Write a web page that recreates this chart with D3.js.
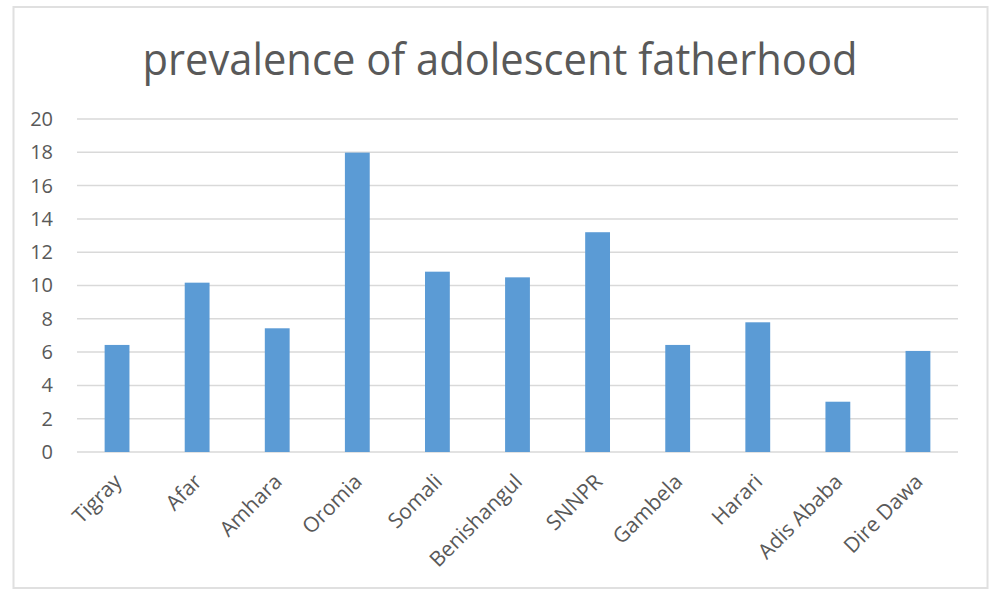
<!DOCTYPE html>
<html>
<head>
<meta charset="utf-8">
<script src="https://cdn.jsdelivr.net/npm/d3@7"></script>
<style>
  body { margin: 0; background: #fff; }
  #chart { width: 990px; height: 590px; }
  text { font-family: "Open Sans", "Noto Sans", sans-serif; fill: #595959; }
</style>
</head>
<body>
<div id="chart"></div>
<script>
// data
const regions = ["Tigray", "Afar", "Amhara", "Oromia", "Somali", "Benishangul",
  "SNNPR", "Gambela", "Harari", "Adis Ababa", "Dire Dawa"];
const prevalence = [6.43, 10.17, 7.43, 17.98, 10.83, 10.49, 13.2, 6.43, 7.79, 3.02, 6.07];
const yTicks = [0, 2, 4, 6, 8, 10, 12, 14, 16, 18, 20];
const chartTitle = "prevalence of adolescent fatherhood";

const data = regions.map((r, i) => ({ region: r, value: prevalence[i] }));

const W = 990, H = 590;
const margin = { top: 119, right: 32, bottom: 138, left: 77 };
const width = W - margin.left - margin.right;
const height = H - margin.top - margin.bottom;

const svg = d3.select("#chart").append("svg")
  .attr("width", W)
  .attr("height", H);

// outer frame
svg.append("rect")
  .attr("x", 13.5).attr("y", 7)
  .attr("width", 974).attr("height", 581)
  .attr("fill", "#fff")
  .attr("stroke", "#e0e0e0")
  .attr("stroke-width", 2);

// title
svg.append("text")
  .attr("x", 500).attr("y", 75)
  .attr("text-anchor", "middle")
  .attr("font-size", 44)
  .attr("textLength", 715)
  .attr("lengthAdjust", "spacingAndGlyphs")
  .style("fill", "#595959")
  .text(chartTitle);

const g = svg.append("g")
  .attr("transform", `translate(${margin.left},${margin.top})`);

const x = d3.scaleBand()
  .domain(regions)
  .range([0, width])
  .paddingInner(0.69)
  .paddingOuter(0.345);

const y = d3.scaleLinear()
  .domain([0, 20])
  .range([height, 0]);

// gridlines
g.append("g")
  .attr("class", "grid")
  .selectAll("line")
  .data(yTicks)
  .enter()
  .append("line")
  .attr("x1", 0).attr("x2", width)
  .attr("y1", d => y(d)).attr("y2", d => y(d))
  .attr("stroke", "#d9d9d9")
  .attr("stroke-width", 1.5);

// y axis labels
const yAxis = d3.axisLeft(y).tickValues(yTicks).tickSize(0).tickPadding(24);
g.append("g")
  .attr("class", "y-axis")
  .call(yAxis)
  .call(s => s.select(".domain").remove())
  .selectAll("text")
  .attr("font-size", 20)
  .style("font-family", "'Open Sans', sans-serif")
  .style("fill", "#595959");

// bars
g.selectAll(".bar")
  .data(data)
  .enter()
  .append("rect")
  .attr("class", "bar")
  .attr("x", d => x(d.region))
  .attr("y", d => y(d.value))
  .attr("width", x.bandwidth())
  .attr("height", d => height - y(d.value))
  .attr("fill", "#5b9bd5");

// x axis labels, rotated
const xAxis = d3.axisBottom(x).tickSize(0).tickPadding(0);
g.append("g")
  .attr("class", "x-axis")
  .attr("transform", `translate(0,${height})`)
  .call(xAxis)
  .call(s => s.select(".domain").remove())
  .selectAll("text")
  .attr("font-size", 21)
  .style("font-family", "'Open Sans', sans-serif")
  .style("fill", "#595959")
  .attr("text-anchor", "end")
  .attr("dy", null)
  .attr("y", 0)
  .attr("transform", "translate(6,31) rotate(-45)");
</script>
</body>
</html>
